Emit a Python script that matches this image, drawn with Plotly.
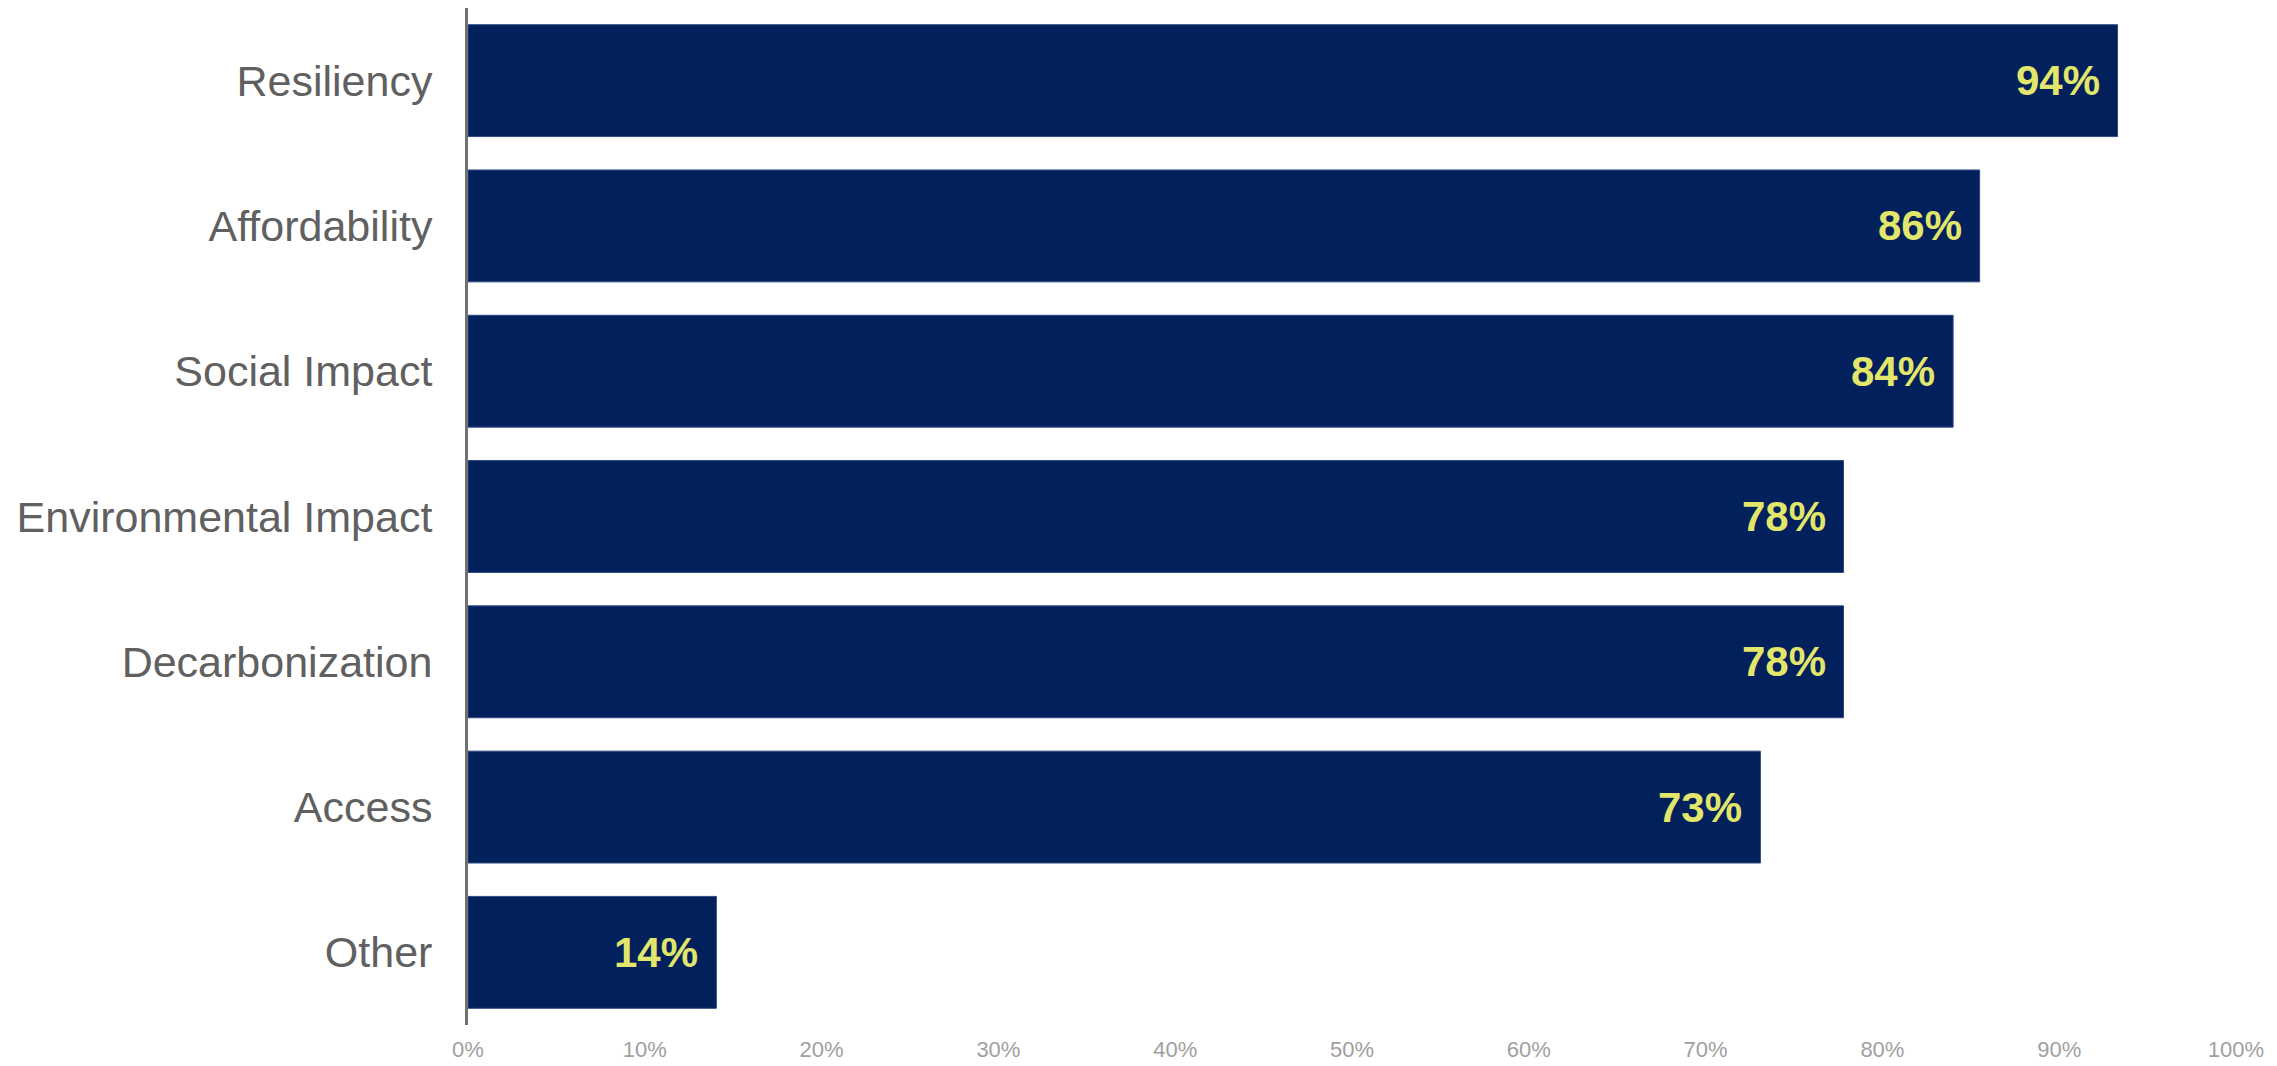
import plotly.graph_objects as go

categories = ["Resiliency", "Affordability", "Social Impact", "Environmental Impact",
              "Decarbonization", "Access", "Other"]
values = [93.3, 85.5, 84.0, 77.8, 77.8, 73.1, 14.05]
labels = ["94%", "86%", "84%", "78%", "78%", "73%", "14%"]
x_ticks = [0, 10, 20, 30, 40, 50, 60, 70, 80, 90, 100]
x_tick_text = [f"{v}%" for v in x_ticks]

BAR = "#01205c"
LABEL_YELLOW = "#e2e66b"

fig = go.Figure()
fig.add_trace(go.Bar(
    x=values, y=categories, orientation="h",
    marker=dict(color=BAR, line=dict(color="#2e4a82", width=1)),
    hoverinfo="skip",
))

for v, c, t in zip(values, categories, labels):
    fig.add_annotation(
        x=v, y=c, text=f"<b>{t}</b>", showarrow=False,
        xanchor="right", yanchor="middle", xshift=-16, yshift=0,
        font=dict(family="Liberation Sans, Arial, sans-serif", size=42, color=LABEL_YELLOW),
    )

fig.update_layout(
    width=2277, height=1066,
    margin=dict(l=468, r=41, t=8, b=41),
    paper_bgcolor="white", plot_bgcolor="white",
    bargap=0.23, showlegend=False,
    font=dict(family="Liberation Sans, Arial, sans-serif"),
)
fig.update_yaxes(
    type="category", autorange="reversed",
    showline=True, linecolor="#707070", linewidth=3,
    showgrid=False, zeroline=False, ticks="",
    tickfont=dict(size=43, color="#606060"),
    ticklabelstandoff=24, automargin=False,
)
fig.update_xaxes(
    range=[0, 100], tickvals=x_ticks, ticktext=x_tick_text,
    showline=False, showgrid=False, zeroline=False, ticks="",
    tickfont=dict(size=22, color="#a0a0a0"),
    ticklabelstandoff=9, automargin=False,
)

fig.write_html("out.html")
